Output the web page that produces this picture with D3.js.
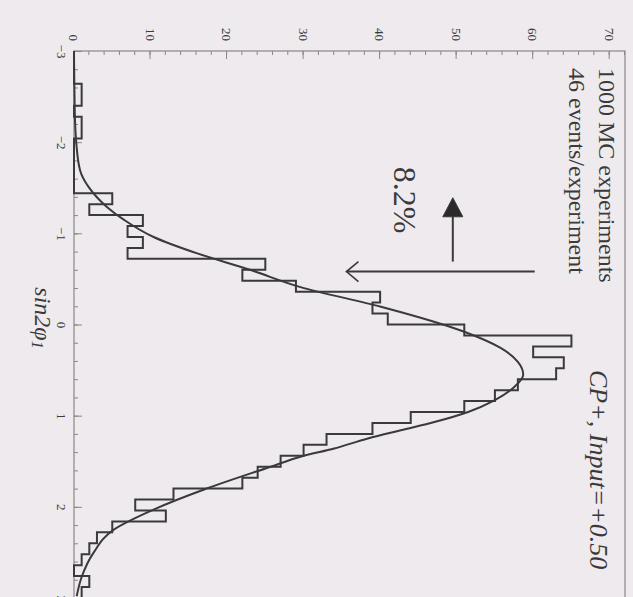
<!DOCTYPE html>
<html>
<head>
<meta charset="utf-8">
<script src="https://cdnjs.cloudflare.com/ajax/libs/d3/7.8.5/d3.min.js"></script>
<style>
body { margin: 0; background: #eeeaee; }
svg { display: block; }
text { font-family: "Liberation Serif", "Times New Roman", serif; fill: #3a3a3a; }
</style>
</head>
<body>
<svg id="chart" width="633" height="597"></svg>
<script>
// histogram: 50 bins of 0.12 from -3 to 3
var binStart = -3;
var binWidth = 0.12;
var binCounts = [0, 0, 0, 1, 1, 0, 1, 1, 0, 0,
                 0, 0, 0, 5, 2, 9, 7, 9, 7, 25,
                 22, 29, 40, 39, 41, 51, 65, 60, 64, 63,
                 58, 55, 51, 44, 39, 33, 30, 27, 24, 22,
                 13, 8, 12, 5, 3, 2, 1, 0, 2, 1];

// fitted curve
var fitS = [-3.0, -2.6, -2.2, -1.99, -1.69, -1.51, -1.29, -1.15, -0.96, -0.78, -0.6, -0.41, -0.195,
            0.08, 0.26, 0.41, 0.55, 0.68, 0.83, 0.96, 1.07, 1.16, 1.25, 1.36, 1.45, 1.56, 1.81,
            2.03, 2.25, 2.51, 2.77, 2.98];
var fitN = [0.0, 0.05, 0.15, 0.3, 0.8, 1.9, 4.3, 6.5, 10.4, 16.1, 23.0, 29.6, 40.1,
            51.0, 55.8, 58.0, 58.7, 57.6, 55.0, 51.5, 47.1, 42.7, 38.4, 34.0, 29.6, 25.7, 17.0,
            10.4, 5.2, 2.5, 1.0, 0.35];

var xTicks = [-3, -2, -1, 0, 1, 2, 3];
var yTicks = [0, 10, 20, 30, 40, 50, 60, 70];

// arrows: [s, n] pairs
var arrowOpen = [[-0.58, 60.2], [-0.58, 35.6]];
var arrowFilled = [[-0.69, 49.5], [-1.39, 49.5]];

var infoLines = ["1000 MC experiments", "46 events/experiment"];
var fitLabel = "CP+, Input=+0.50";
var arrowLabel = "8.2%";

var svg = d3.select("#chart");
// the whole plot is drawn upright, then turned a quarter turn clockwise
var g = svg.append("g").attr("transform", "translate(633,0) rotate(90)");

var x = d3.scaleLinear().domain([-3, 3]).range([51, 598]);
var y = d3.scaleLinear().domain([0, 72]).range([559, 8]);

var ink = "#3a3a3a";

// frame
g.append("rect")
    .attr("x", x(-3)).attr("y", y(72))
    .attr("width", x(3) - x(-3)).attr("height", y(0) - y(72))
    .attr("fill", "none").attr("stroke", "#8a868a").attr("stroke-width", 1.2);

// minor ticks
g.append("g")
    .attr("transform", "translate(0," + y(0) + ")")
    .call(d3.axisBottom(x).tickValues(d3.range(-3, 3.01, 0.2)).tickFormat("").tickSize(-4).tickSizeOuter(0))
    .call(function (a) { a.select(".domain").remove(); a.selectAll("line").attr("stroke", "#8a868a"); });
g.append("g")
    .attr("transform", "translate(" + x(-3) + ",0)")
    .call(d3.axisLeft(y).tickValues(d3.range(0, 72.1, 2)).tickFormat("").tickSize(-4).tickSizeOuter(0))
    .call(function (a) { a.select(".domain").remove(); a.selectAll("line").attr("stroke", "#8a868a"); });

// major ticks + labels
var xAxis = g.append("g")
    .attr("transform", "translate(0," + y(0) + ")")
    .call(d3.axisBottom(x).tickValues(xTicks).tickFormat(d3.format("d"))
        .tickSize(-8).tickSizeOuter(0).tickPadding(8));
var yAxis = g.append("g")
    .attr("transform", "translate(" + x(-3) + ",0)")
    .call(d3.axisLeft(y).tickValues(yTicks).tickFormat(d3.format("d"))
        .tickSize(-8).tickSizeOuter(0).tickPadding(10));
[xAxis, yAxis].forEach(function (a) {
    a.select(".domain").remove();
    a.selectAll("line").attr("stroke", "#8a868a");
    a.selectAll("text").attr("fill", ink).style("font-size", "13px")
        .style("font-family", "'Liberation Serif', serif");
});

// histogram outline
var steps = [];
binCounts.forEach(function (n, i) {
    var lo = binStart + i * binWidth;
    steps.push([lo, n]);
    steps.push([lo + binWidth, n]);
});
g.append("path")
    .datum(steps)
    .attr("fill", "none").attr("stroke", ink).attr("stroke-width", 2)
    .attr("d", d3.line().x(function (d) { return x(d[0]); }).y(function (d) { return y(d[1]); }));

// fit curve
g.append("path")
    .datum(d3.zip(fitS, fitN))
    .attr("fill", "none").attr("stroke", ink).attr("stroke-width", 2)
    .attr("d", d3.line().curve(d3.curveMonotoneX)
        .x(function (d) { return x(d[0]); }).y(function (d) { return y(d[1]); }));

// open arrow
var ax = x(arrowOpen[0][0]), ay0 = y(arrowOpen[0][1]), ay1 = y(arrowOpen[1][1]);
g.append("line").attr("x1", ax).attr("x2", ax).attr("y1", ay0).attr("y2", ay1)
    .attr("stroke", ink).attr("stroke-width", 2);
g.append("path")
    .attr("d", "M" + (ax - 10) + "," + (ay1 - 12) + "L" + ax + "," + ay1 + "L" + (ax + 10) + "," + (ay1 - 12))
    .attr("fill", "none").attr("stroke", ink).attr("stroke-width", 1.6);

// filled arrow
var by = y(arrowFilled[0][1]), bx0 = x(arrowFilled[0][0]), bx1 = x(arrowFilled[1][0]);
g.append("line").attr("x1", bx0).attr("x2", bx1 + 14).attr("y1", by).attr("y2", by)
    .attr("stroke", ink).attr("stroke-width", 2);
g.append("path")
    .attr("d", "M" + bx1 + "," + by + "L" + (bx1 + 19) + "," + (by - 10) + "L" + (bx1 + 19) + "," + (by + 10) + "Z")
    .attr("fill", "#2a2a2a").attr("stroke", ink).attr("stroke-width", 1);

// texts
g.selectAll(".info")
    .data(infoLines)
    .enter().append("text")
    .attr("class", "info")
    .attr("x", 68)
    .attr("y", function (d, i) { return 26 + i * 30; })
    .attr("dominant-baseline", "central")
    .style("font-size", "24px")
    .text(function (d) { return d; });

g.append("text")
    .attr("x", 370).attr("y", 35)
    .attr("dominant-baseline", "central")
    .style("font-size", "26px").style("font-style", "italic")
    .text(fitLabel);

g.append("text")
    .attr("x", 200).attr("y", 228)
    .attr("text-anchor", "middle")
    .attr("dominant-baseline", "central")
    .style("font-size", "32px")
    .text(arrowLabel);

var title = g.append("text")
    .attr("x", 318).attr("y", 590)
    .attr("text-anchor", "middle")
    .attr("dominant-baseline", "central")
    .style("font-size", "24px").style("font-style", "italic");
title.append("tspan").text("sin2φ");
title.append("tspan").attr("dy", 5).style("font-size", "16px").text("1");
</script>
</body>
</html>
